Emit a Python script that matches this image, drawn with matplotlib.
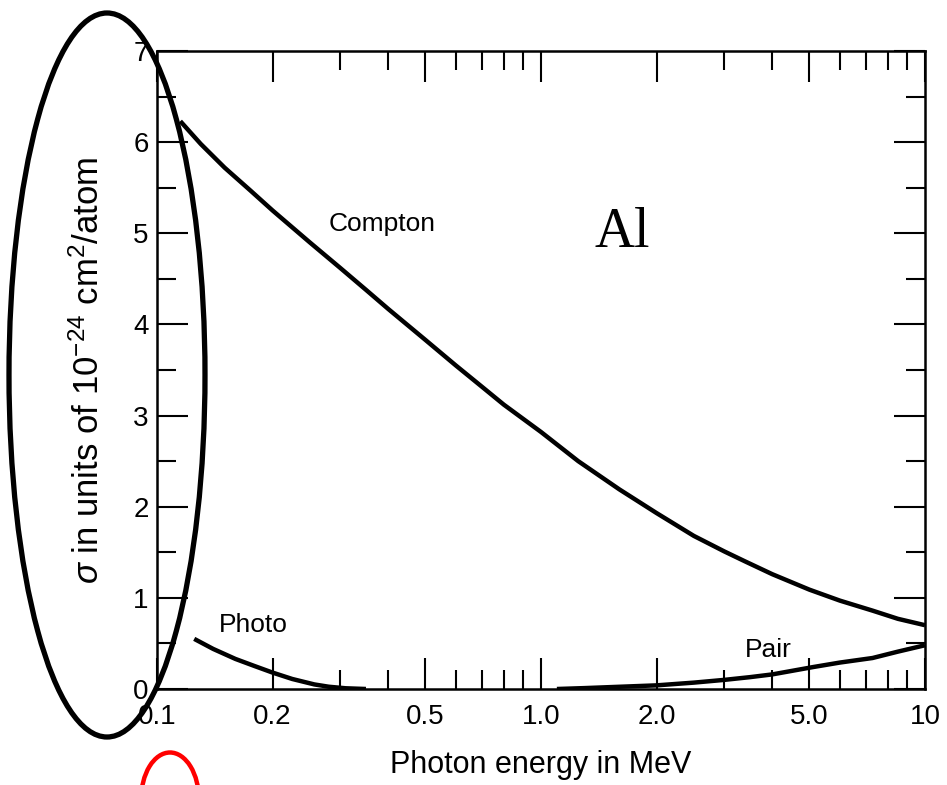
import numpy as np
import matplotlib
matplotlib.use("Agg")
import matplotlib.pyplot as plt
from matplotlib.patches import Ellipse

# cross sections for Al (10^-24 cm^2/atom)
compton_E = [0.115, 0.13, 0.15, 0.175, 0.2, 0.25, 0.3, 0.35, 0.4, 0.5, 0.6, 0.7,
             0.8, 1.0, 1.25, 1.6, 2.0, 2.5, 3.0, 3.4, 4.0, 5.0, 6.0, 7.3, 8.5, 10.0]
compton_s = [6.23, 5.98, 5.72, 5.47, 5.25, 4.90, 4.62, 4.38, 4.17, 3.83, 3.55, 3.32,
             3.12, 2.82, 2.50, 2.19, 1.93, 1.68, 1.51, 1.40, 1.26, 1.09, 0.97, 0.86, 0.77, 0.70]

photo_E = [0.125, 0.14, 0.16, 0.18, 0.2, 0.225, 0.257, 0.28, 0.31, 0.35]
photo_s = [0.55, 0.44, 0.33, 0.25, 0.18, 0.11, 0.05, 0.025, 0.008, 0.0]

pair_E = [1.1, 1.3, 1.5, 2.0, 2.5, 3.0, 3.5, 4.0, 5.1, 6.0, 7.3, 8.5, 10.0]
pair_s = [0.0, 0.01, 0.02, 0.04, 0.07, 0.10, 0.13, 0.16, 0.24, 0.29, 0.34, 0.41, 0.48]

xticks = [0.1, 0.2, 0.5, 1.0, 2.0, 5.0, 10]
xticklabels = ['0.1', '0.2', '0.5', '1.0', '2.0', '5.0', '10']
xminor = [0.3, 0.4, 0.6, 0.7, 0.8, 0.9, 3, 4, 6, 7, 8, 9]

plt.rcParams['font.family'] = ['Liberation Sans', 'DejaVu Sans']
plt.rcParams['mathtext.fontset'] = 'custom'
plt.rcParams['mathtext.rm'] = 'Liberation Sans'
plt.rcParams['mathtext.it'] = 'Liberation Sans:italic'

fig = plt.figure(figsize=(9.47, 7.85), dpi=100)
ax = fig.add_axes([157/947, 1-689/785, (925-157)/947, (689-51)/785])

lw = 3.2
for xs, ys in [(compton_E, compton_s), (photo_E, photo_s), (pair_E, pair_s)]:
    ax.plot(xs, ys, color='black', lw=lw, solid_capstyle='butt', solid_joinstyle='round')

ax.set_xscale('log')
ax.set_xlim(0.1, 10)
ax.set_ylim(0, 7)
ax.set_xticks(xticks)
ax.set_xticklabels(xticklabels)
ax.set_xticks(xminor, minor=True)
ax.set_xticklabels([], minor=True)
ax.set_yticks(range(8))
ax.set_yticks(np.arange(0.5, 7, 1.0), minor=True)

for s in ax.spines.values():
    s.set_linewidth(1.8)
ax.tick_params(which='both', direction='in', top=True, right=True, width=1.5,
               labelsize=20)
ax.tick_params(which='major', length=22)
ax.tick_params(which='minor', length=14)
ax.tick_params(axis='x', pad=11)
ax.tick_params(axis='y', pad=6)

ax.set_xlabel('Photon energy in MeV', fontsize=22, labelpad=14)
ax.set_ylabel(r'$\sigma$ in units of 10$^{-24}$ cm$^2$/atom', fontsize=25, labelpad=20)

ax.text(0.385, 5.10, 'Compton', fontsize=19, ha='center', va='center')
ax.text(0.178, 0.70, 'Photo', fontsize=19, ha='center', va='center')
ax.text(3.9, 0.43, 'Pair', fontsize=19, ha='center', va='center')
ax.text(1.63, 5.0, 'Al', fontsize=40, ha='center', va='center',
        family=['Liberation Serif', 'DejaVu Serif'])

# hand-drawn annotations
fig.add_artist(Ellipse((1.07, 4.10), 1.96, 7.24, transform=fig.dpi_scale_trans,
                       fill=False, edgecolor='black', lw=3.8, clip_on=False))
fig.add_artist(Ellipse((1.70, -0.15), 0.58, 0.95, transform=fig.dpi_scale_trans,
                       fill=False, edgecolor='red', lw=3.2, clip_on=False))

fig.savefig('out.png', dpi=100)
